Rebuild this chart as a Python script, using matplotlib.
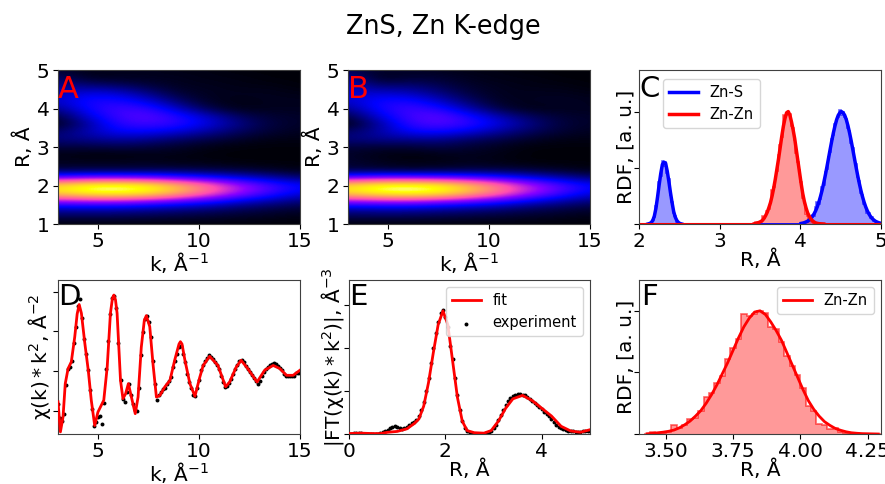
import numpy as np
import matplotlib
matplotlib.use("Agg")
import matplotlib.pyplot as plt

# wavelet maps, rows are R = 1.0 .. 5.0, columns are k = 3 .. 15
map_a = [
    [.01, .01, .01, .01, .01, .01, .01, .01, .01],
    [.08, .08, .08, .07, .06, .05, .04, .03, .02],
    [.18, .18, .18, .16, .14, .12, .09, .07, .05],
    [.44, .46, .46, .42, .36, .30, .22, .17, .12],
    [.84, .93, .95, .90, .76, .60, .44, .32, .22],
    [.88, .98, 1.0, .95, .80, .64, .46, .34, .26],
    [.38, .42, .42, .40, .35, .29, .23, .18, .12],
    [.07, .07, .07, .08, .08, .07, .06, .04, .02],
    [.03, .03, .03, .03, .02, .02, .01, .01, .01],
    [.02, .01, .01, .02, .02, .01, .01, .01, .01],
    [.06, .06, .07, .06, .04, .02, .01, .01, .01],
    [.12, .14, .16, .14, .10, .07, .04, .02, .02],
    [.10, .18, .25, .25, .21, .15, .09, .05, .03],
    [.02, .16, .30, .33, .30, .22, .13, .06, .04],
    [.06, .22, .33, .36, .29, .19, .09, .05, .04],
    [.14, .27, .33, .31, .19, .07, .02, .03, .03],
    [.20, .28, .28, .22, .10, .03, .02, .03, .03],
    [.18, .23, .21, .13, .05, .03, .03, .03, .02],
    [.14, .12, .10, .06, .03, .03, .02, .02, .01],
    [.10, .03, .03, .03, .03, .02, .02, .01, .01],
    [.05, .02, .03, .03, .02, .02, .01, .01, .01],
]
map_b = [
    [.01, .01, .01, .01, .01, .01, .01, .01, .01],
    [.08, .08, .08, .07, .06, .05, .04, .03, .02],
    [.17, .18, .18, .16, .14, .12, .09, .07, .05],
    [.44, .46, .47, .43, .38, .31, .23, .17, .12],
    [.84, .93, .96, .92, .78, .63, .46, .33, .22],
    [.88, .98, 1.0, .96, .82, .66, .48, .35, .26],
    [.38, .42, .42, .40, .37, .31, .24, .18, .12],
    [.06, .06, .05, .06, .07, .07, .06, .04, .02],
    [.05, .03, .02, .02, .03, .02, .01, .01, .01],
    [.04, .02, .01, .02, .03, .02, .01, .01, .01],
    [.06, .05, .05, .07, .05, .03, .01, .01, .01],
    [.12, .14, .14, .14, .10, .07, .04, .02, .02],
    [.10, .16, .25, .27, .22, .15, .09, .05, .03],
    [.01, .15, .31, .35, .31, .22, .13, .06, .04],
    [.06, .22, .33, .37, .28, .17, .09, .05, .04],
    [.14, .27, .33, .29, .17, .06, .02, .03, .03],
    [.20, .27, .28, .20, .10, .03, .03, .04, .03],
    [.20, .21, .19, .13, .06, .03, .03, .03, .02],
    [.20, .10, .12, .08, .04, .03, .02, .02, .01],
    [.16, .02, .05, .05, .03, .02, .02, .01, .01],
    [.08, .04, .04, .03, .02, .02, .01, .01, .01],
]

# Zn-S peaks
rs1_r = [2.11, 2.13, 2.15, 2.17, 2.19, 2.21, 2.23, 2.25, 2.27, 2.29, 2.31, 2.33, 2.35, 2.37, 2.39, 2.41, 2.43, 2.45, 2.47, 2.49, 2.51, 2.53]
rs1_fit = [.0, .004, .012, .03, .07, .14, .24, .35, .45, .53, .55, .54, .47, .38, .28, .19, .11, .06, .03, .012, .004, .0]
rs1_hist = [.0, .006, .01, .04, .06, .16, .22, .37, .43, .56, .52, .55, .45, .40, .26, .20, .10, .07, .02, .015, .003, .0]
rs2_r = [4.01, 4.03, 4.05, 4.07, 4.09, 4.11, 4.13, 4.15, 4.17, 4.19, 4.21, 4.23, 4.25, 4.27, 4.29, 4.31, 4.33, 4.35, 4.37, 4.39, 4.41, 4.43, 4.45, 4.47, 4.49,
         4.51, 4.53, 4.55, 4.57, 4.59, 4.61, 4.63, 4.65, 4.67, 4.69, 4.71, 4.73, 4.75, 4.77, 4.79, 4.81, 4.83, 4.85, 4.87, 4.89, 4.91, 4.93, 4.95, 4.97, 4.99]
rs2_fit = [.005, .008, .012, .018, .025, .036, .049, .067, .09, .118, .153, .195, .245, .301, .365, .435, .509, .587, .665, .741, .812, .875, .928, .967, .99,
           1.0, .99, .967, .928, .875, .812, .741, .665, .587, .509, .435, .365, .301, .245, .195, .153, .118, .09, .067, .049, .036, .025, .018, .012, .008]
rs2_hist = [.0, .0, .01, .02, .02, .03, .07, .08, .07, .15, .20, .18, .22, .33, .35, .46, .49, .60, .64, .76, .79, .89, .92, .95, 1.01,
            .97, 1.0, .95, .93, .85, .83, .72, .68, .57, .53, .42, .38, .28, .26, .18, .16, .10, .10, .05, .06, .03, .03, .01, .01, .0]

# Zn-Zn peak, also panel F
rr_r = [3.43, 3.45, 3.47, 3.49, 3.51, 3.53, 3.55, 3.57, 3.59, 3.61, 3.63, 3.65, 3.67, 3.69, 3.71, 3.73, 3.75, 3.77, 3.79, 3.81, 3.83, 3.85,
        3.87, 3.89, 3.91, 3.93, 3.95, 3.97, 3.99, 4.01, 4.03, 4.05, 4.07, 4.09, 4.11, 4.13, 4.15, 4.17, 4.19, 4.21, 4.23, 4.25, 4.27, 4.29]
rr_fit = [.002, .005, .010, .015, .022, .032, .05, .075, .105, .145, .19, .25, .32, .40, .49, .58, .68, .78, .87, .94, .99, 1.0,
          .97, .91, .84, .76, .66, .56, .46, .36, .27, .20, .145, .10, .07, .045, .03, .018, .01, .006, .003, .002, .001, .0]
rr_hist = [.003, .018, .008, .01, .02, .07, .05, .07, .12, .13, .19, .30, .33, .41, .47, .61, .70, .77, .97, .96, .97, 1.0,
           .98, .87, .85, .75, .63, .55, .48, .37, .23, .19, .085, .07, .04, .045, .02, .01, .01, .005, .0, .004, .0, .0]

# EXAFS in k space
fit_k = [3.0, 3.12, 3.25, 3.36, 3.5, 3.66, 3.83, 3.95, 4.05, 4.16, 4.33, 4.5, 4.65, 4.82, 4.98, 5.27, 5.44, 5.6, 5.7, 5.77, 5.85, 5.93, 6.1, 6.22, 6.35, 6.49,
         6.64, 6.83, 6.97, 7.13, 7.28, 7.38, 7.55, 7.71, 7.88, 8.05, 8.3, 8.55, 8.79, 9.0, 9.07, 9.15, 9.29, 9.54, 9.79, 10.03, 10.2, 10.52, 10.93, 11.31,
         11.51, 11.84, 12.08, 12.41, 12.87, 13.25, 13.67, 14.0, 14.33, 14.66, 15.0]
fit_chi = [-3.9, -7.7, -5.8, -1.6, .3, 1.15, 4.3, 7.2, 8.4, 7.3, 3.5, .1, -3.7, -6.9, -5.2, -3.7, .5, 7.3, 9.2, 9.6, 9.0, 7.3, -1.2, -3.5, -2.9, -1.6,
           -3.3, -5.4, -3.3, 3.0, 6.4, 7.0, 5.6, .9, -3.3, -3.1, -2.0, -1.2, 1.4, 3.4, 3.7, 3.4, 1.4, -1.6, -3.2, -.8, .7, 1.85, .7, -2.0,
           -1.4, .5, 1.35, .3, -1.4, .1, .7, .3, -.55, -.55, .1]
exp_chi = [-4.2, -5.9, -6.3, -5.5, -1.8, .2, .5, 1.3, 3.5, 5.5, 8.2, 9.1, 6.7, 4.0, 2.2, .1, -2.4, -4.8, -7.0, -6.4, -5.8, -5.7, -6.7, -4.1, .2, 3.8, 7.2, 9.2,
           9.5, 8.0, 3.5, -1.1, -3.5, -3.9, -2.7, -1.7, -3.0, -4.2, -4.9, -5.0, -2.2, 2.0, 4.9, 6.6, 6.9, 6.2, 4.3, 1.3, -1.7, -3.7, -3.1, -2.7, -2.3, -2.1,
           -1.6, -1.3, -.8, .5, 1.3, 2.2, 3.0, 3.1, 2.2, 1.1, -.4, -1.4, -2.2, -3.0, -3.2, -2.2, -1.1, .1, .7, 1.2, 1.7, 2.0, 1.8, 1.5, 1.1, .8, .2, -.6, -1.4,
           -2.0, -1.9, -1.5, -1.0, -.4, .2, .7, 1.2, 1.4, 1.1, .6, .2, -.1, -.5, -.9, -1.3, -1.6, -1.3, -.7, -.1, .3, .5, .7, .9, 1.0, .9, .6, .4, .1, -.4, -.6,
           -.7, -.7, -.6, -.6, -.2, -.2, -.3]

# EXAFS in R space
fit_r = [0, .25, .5, .65, .8, 1, 1.2, 1.35, 1.45, 1.55, 1.65, 1.75, 1.85, 1.95, 2.05, 2.15, 2.25, 2.35, 2.45, 2.6, 2.8, 2.95, 3.1, 3.25, 3.4, 3.6, 3.8,
         4, 4.2, 4.4, 4.6, 4.8, 5]
fit_ft = [.01, .02, .01, .01, .04, .06, .12, .24, .35, .65, 1.2, 1.9, 2.55, 2.87, 2.55, 1.7, .85, .3, .08, .03, .02, .08, .3, .6, .82, .9, .78,
          .6, .42, .18, .07, .04, .1]
exp_ft = [.01, .01, .02, .02, .02, .02, .01, .01, .01, .01, .01, .01, .01, .02, .04, .06, .09, .13, .16, .18, .17, .13, .11, .13, .17, .2, .25, .28, .32, .42,
          .56, .75, 1.0, 1.3, 1.65, 2.0, 2.35, 2.6, 2.83, 2.88, 2.72, 2.5, 2.05, 1.75, 1.3, .9, .55, .3, .14, .06, .03, .01, .01, .01, .01, .01, .01, .02, .04, .08,
          .14, .22, .32, .45, .57, .67, .77, .84, .88, .91, .93, .93, .92, .9, .87, .82, .76, .72, .68, .62, .58, .52, .47, .42, .36, .28, .22, .17, .14, .11,
          .09, .08, .07, .06, .05, .05, .05, .06, .07, .07, .08]

K_LABEL = "k, Å$^{-1}$"
R_LABEL = "R, Å"
RDF_LABEL = "RDF, [a. u.]"
AX_W = 242.0


def edges_from(centers):
    c = np.array(centers)
    return np.append(c - 0.01, c[-1] + 0.01)


# filled histogram with its outline and the smooth curve on top
def draw_peak(ax, r, hist, fit, color, label=None, lw=2):
    ax.stairs(hist, edges_from(r), fill=True, color=color, alpha=0.4, lw=0)
    ax.stairs(hist, edges_from(r), color=color, alpha=0.6, lw=1.2)
    ax.plot(r, fit, color=color, lw=lw, label=label)


# labels sit at a fixed pixel offset left of the axes
def put_labels(ax, xlabel, ylabel, offset):
    ax.set_xlabel(xlabel, labelpad=-1)
    ax.set_ylabel(ylabel)
    ax.yaxis.set_label_coords(-offset / AX_W, 0.5)
    ax.tick_params(axis="x", pad=2.5)
    ax.tick_params(axis="y", pad=2.5)


def draw_map(ax, values, letter):
    dk = 1.5 / 2
    dr = 0.2 / 2
    ax.imshow(values, cmap="gnuplot2", origin="lower", aspect="auto", interpolation="bicubic",
              vmin=0, vmax=1, extent=[3 - dk, 15 + dk, 1 - dr, 5 + dr])
    ax.set_xlim(3, 15)
    ax.set_ylim(1, 5)
    ax.set_xticks([5, 10, 15])
    ax.set_yticks([1, 2, 3, 4, 5])
    put_labels(ax, K_LABEL, R_LABEL, 24)
    ax.text(0.0, 0.97, letter, transform=ax.transAxes, color="red", fontsize=22, va="top", ha="left")


plt.rcParams["font.size"] = 14.5
plt.rcParams["axes.edgecolor"] = "#404040"

fig = plt.figure(figsize=(8.85, 4.84), dpi=100)
W, H = 885.0, 484.0


def make_axes(x0, x1, y0, y1):
    return fig.add_axes([x0 / W, 1 - y1 / H, (x1 - x0) / W, (y1 - y0) / H])


ax_a = make_axes(58, 300, 70, 224)
ax_b = make_axes(348, 590, 70, 224)
ax_c = make_axes(639, 881, 70, 224)
ax_d = make_axes(58, 300, 280, 434)
ax_e = make_axes(349, 590, 280, 434)
ax_f = make_axes(639, 881, 280, 434)

draw_map(ax_a, map_a, "A")
draw_map(ax_b, map_b, "B")

# C
draw_peak(ax_c, rs1_r, rs1_hist, rs1_fit, "blue", lw=2.5)
draw_peak(ax_c, rs2_r, rs2_hist, rs2_fit, "blue", label="Zn-S", lw=2.5)
ax_c.plot([2, 2.11], [0, 0], color="blue", lw=2)
ax_c.plot([2.53, 4.01], [0, 0], color="blue", lw=2)
ax_c.plot([4.99, 5], [0, 0], color="blue", lw=2)
draw_peak(ax_c, rr_r, rr_hist, rr_fit, "red", label="Zn-Zn", lw=2.5)
ax_c.plot([2, 3.43], [0, 0], color="red", lw=1.5)
ax_c.plot([4.29, 5], [0, 0], color="red", lw=1.5)
ax_c.set_xlim(2, 5)
ax_c.set_ylim(0, 1.37)
ax_c.set_xticks([2, 3, 4, 5])
ax_c.set_yticks([0, 0.5, 1])
ax_c.set_yticklabels([])
put_labels(ax_c, R_LABEL, RDF_LABEL, 3)
ax_c.legend(loc="upper left", bbox_to_anchor=(0.10, 0.94), borderaxespad=0, fontsize=10.5)
ax_c.text(0.0, 0.97, "C", transform=ax_c.transAxes, fontsize=21, va="top", ha="left")

# D
ax_d.scatter(np.linspace(3, 15, len(exp_chi)), exp_chi, s=8, color="black", lw=0, zorder=2)
ax_d.plot(fit_k, fit_chi, color="red", lw=2, zorder=3)
ax_d.set_xlim(3, 15)
ax_d.set_ylim(-7.97, 11.5)
ax_d.set_xticks([5, 10, 15])
ax_d.set_yticks([-5, 0, 5, 10])
ax_d.set_yticklabels([])
put_labels(ax_d, K_LABEL, r"$\mathrm{\chi(k) * k^2}$, Å$^{-2}$", 5)
ax_d.text(0.0, 0.98, "D", transform=ax_d.transAxes, fontsize=21, va="top", ha="left")

# E
ax_e.scatter(np.linspace(0, 5, len(exp_ft)), exp_ft, s=8, color="black", lw=0, label="experiment", zorder=2)
ax_e.plot(fit_r, fit_ft, color="red", lw=2, label="fit", zorder=3)
ax_e.set_xlim(0, 5)
ax_e.set_ylim(0, 3.59)
ax_e.set_xticks([0, 2, 4])
ax_e.set_yticks([0, 1, 2, 3])
ax_e.set_yticklabels([])
put_labels(ax_e, R_LABEL, r"$\mathrm{|FT(\chi(k) * k^2)|}$, Å$^{-3}$", 3)
handles, labels = ax_e.get_legend_handles_labels()
ax_e.legend(handles[::-1], labels[::-1], loc="upper right", fontsize=10.5)
ax_e.text(0.0, 0.98, "E", transform=ax_e.transAxes, fontsize=21, va="top", ha="left")

# F
draw_peak(ax_f, rr_r, rr_hist, rr_fit, "red", label="Zn-Zn")
ax_f.set_xlim(3.4, 4.3)
ax_f.set_ylim(0, 1.25)
ax_f.set_xticks([3.5, 3.75, 4.0, 4.25])
ax_f.set_xticklabels(["3.50", "3.75", "4.00", "4.25"])
ax_f.set_yticks([0, 0.5, 1])
ax_f.set_yticklabels([])
put_labels(ax_f, R_LABEL, RDF_LABEL, 3)
ax_f.legend(loc="upper right", fontsize=10.5)
ax_f.text(0.01, 0.98, "F", transform=ax_f.transAxes, fontsize=21, va="top", ha="left")

fig.text(443 / W, 1 - 27 / H, "ZnS, Zn K-edge", fontsize=18.4, ha="center", va="center")

fig.savefig("out.png", dpi=100)
